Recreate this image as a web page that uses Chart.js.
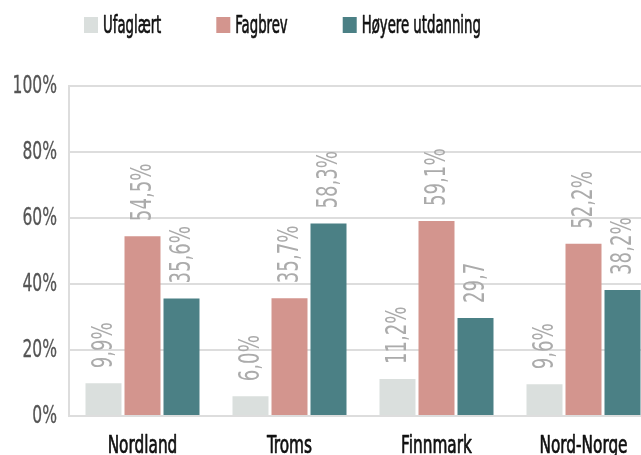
<!DOCTYPE html>
<html>
<head>
<meta charset="utf-8">
<script src="https://cdn.jsdelivr.net/npm/chart.js@4/dist/chart.umd.min.js"></script>
<style>
  html, body { margin: 0; padding: 0; background: #fff; overflow: hidden; }
  #wrap { width: 657px; height: 455px; position: relative; }
</style>
</head>
<body>
<div id="wrap"><canvas id="chart"></canvas></div>
<script>
var categories = ["Nordland", "Troms", "Finnmark", "Nord-Norge"];
var ufaglaert = [9.9, 6.0, 11.2, 9.6];
var fagbrev = [54.5, 35.7, 59.1, 52.2];
var hoyere = [35.6, 58.3, 29.7, 38.2];
var ufaglaertLabels = ["9,9%", "6,0%", "11,2%", "9,6%"];
var fagbrevLabels = ["54,5%", "35,7%", "59,1%", "52,2%"];
var hoyereLabels = ["35,6%", "58,3%", "29,7", "38,2%"];
var yTicks = [0, 20, 40, 60, 80, 100];

// narrow look: condensed face squeezed a bit more sideways
var FONT = "'DejaVu Sans Condensed', 'DejaVu Sans', sans-serif";

function narrowText(ctx, text, x, y, o) {
    ctx.save();
    ctx.font = o.size + "px " + FONT;
    ctx.fillStyle = o.color;
    ctx.textAlign = o.align;
    ctx.textBaseline = o.baseline;
    ctx.translate(x, y);
    if (o.angle) ctx.rotate(o.angle);
    ctx.scale(o.squeeze, 1);
    ctx.fillText(text, 0, 0);
    if (o.weight) {
        ctx.strokeStyle = o.color;
        ctx.lineWidth = o.weight;
        ctx.lineJoin = "round";
        ctx.strokeText(text, 0, 0);
    }
    ctx.restore();
}

function narrowWidth(ctx, text, size, squeeze) {
    ctx.save();
    ctx.font = size + "px " + FONT;
    var w = ctx.measureText(text).width * squeeze;
    ctx.restore();
    return w;
}

var tickStyle = { size: 24, color: "#555555", align: "right", baseline: "middle", squeeze: 0.72, weight: 0.3 };
var catStyle = { size: 24, color: "#111111", align: "center", baseline: "alphabetic", squeeze: 0.71, weight: 0.7 };
var valueStyle = { size: 28, color: "#ababab", align: "left", baseline: "middle", squeeze: 0.72, angle: -Math.PI / 2 };
var legendStyle = { size: 25, color: "#111111", align: "left", baseline: "alphabetic", squeeze: 0.59, weight: 0.7 };

var textLayer = {
    id: "textLayer",
    afterDraw: function(chart) {
        var ctx = chart.ctx;
        var area = chart.chartArea;
        var xs = chart.scales.x, ys = chart.scales.y;

        ys.ticks.forEach(function(t) {
            narrowText(ctx, t.value + "%", area.left - 12, ys.getPixelForValue(t.value) + 1, tickStyle);
        });

        xs.ticks.forEach(function(t, i) {
            narrowText(ctx, chart.data.labels[i], xs.getPixelForTick(i), area.bottom + 37, catStyle);
        });

        chart.data.datasets.forEach(function(ds, i) {
            chart.getDatasetMeta(i).data.forEach(function(bar, j) {
                narrowText(ctx, ds.valueLabels[j], bar.x + 1, bar.y - 15, valueStyle);
            });
        });

        // legend row
        var lx = area.left + 15;
        chart.data.datasets.forEach(function(ds) {
            ctx.fillStyle = ds.backgroundColor;
            ctx.fillRect(lx, 17, 14, 16);
            narrowText(ctx, ds.label, lx + 19, 33, legendStyle);
            lx += 19 + narrowWidth(ctx, ds.label, legendStyle.size, legendStyle.squeeze) + 55;
        });
    }
};

new Chart(document.getElementById("chart"), {
    type: "bar",
    data: {
        labels: categories,
        datasets: [
            { label: "Ufaglært", data: ufaglaert, valueLabels: ufaglaertLabels, backgroundColor: "#dadfdd" },
            { label: "Fagbrev", data: fagbrev, valueLabels: fagbrevLabels, backgroundColor: "#d3958e" },
            { label: "Høyere utdanning", data: hoyere, valueLabels: hoyereLabels, backgroundColor: "#4b8085" }
        ]
    },
    options: {
        responsive: true,
        maintainAspectRatio: false,
        animation: false,
        layout: { padding: { top: 86, left: 0, right: 0, bottom: 0 } },
        datasets: { bar: { categoryPercentage: 0.796, barPercentage: 0.923 } },
        plugins: {
            tooltip: { enabled: false },
            legend: { display: false }
        },
        scales: {
            x: {
                grid: { display: false },
                border: { color: "#dddddd", width: 2 },
                ticks: { display: false },
                afterFit: function(axis) { axis.height = 39; }
            },
            y: {
                min: 0,
                max: 100,
                afterBuildTicks: function(axis) {
                    axis.ticks = yTicks.map(function(v) { return { value: v }; });
                },
                grid: { color: "#dddddd", lineWidth: 2, drawTicks: false },
                border: { color: "#dddddd", width: 2 },
                ticks: { display: false },
                afterFit: function(axis) { axis.width = 69; }
            }
        }
    },
    plugins: [textLayer]
});
</script>
</body>
</html>
